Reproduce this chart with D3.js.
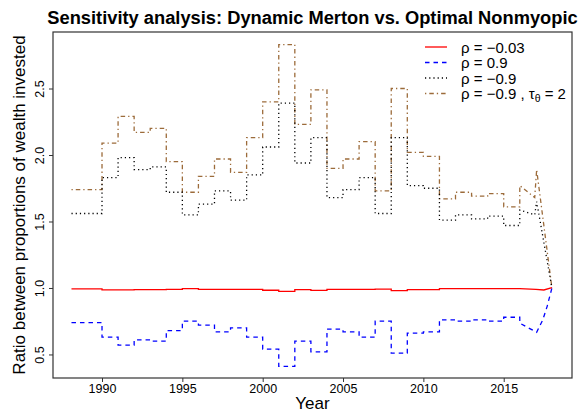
<!DOCTYPE html>
<html lang="en">
  <head>
    <meta charset="UTF-8" />
    <title>Sensitivity analysis</title>
    <style>
      body {
        margin: 0;
        padding: 0;
        background-color: #ffffff;
        font-family: "Liberation Sans", Arial, Helvetica, sans-serif;
      }
      svg text {
        fill: #000;
      }
    </style>
  </head>
  <body>
    <svg id="chart"></svg>

    <script src="https://d3js.org/d3.v7.min.js"></script>
    <script>
      const width = 588;
      const height = 417;

      // yearly step values, 1988..2015
      const years = d3.range(1988, 2016);
      const rhoNeg003 = [0.993, 0.993, 0.985, 0.985, 0.987, 0.987, 0.99, 0.995, 0.99, 0.99, 0.99, 0.99, 0.983, 0.975,
        0.987, 0.982, 0.99, 0.99, 0.99, 0.992, 0.98, 0.987, 0.987, 0.995, 0.995, 0.995, 0.995, 0.995];
      const rhoPos09 = [0.74, 0.74, 0.63, 0.57, 0.61, 0.6, 0.68, 0.75, 0.72, 0.67, 0.7, 0.63, 0.54, 0.41,
        0.6, 0.52, 0.69, 0.67, 0.63, 0.75, 0.51, 0.66, 0.67, 0.76, 0.75, 0.76, 0.75, 0.78];
      const rhoNeg09 = [1.56, 1.56, 1.83, 1.98, 1.89, 1.91, 1.72, 1.55, 1.63, 1.73, 1.66, 1.85, 2.06, 2.39,
        1.94, 2.13, 1.68, 1.74, 1.83, 1.56, 2.13, 1.77, 1.75, 1.51, 1.55, 1.52, 1.54, 1.47];
      const rhoNeg09Tau2 = [1.74, 1.74, 2.09, 2.29, 2.17, 2.2, 1.95, 1.72, 1.84, 1.97, 1.87, 2.13, 2.4, 2.83,
        2.23, 2.49, 1.9, 1.97, 2.1, 1.73, 2.5, 2.02, 1.99, 1.67, 1.72, 1.69, 1.71, 1.61];

      // last stretch (2016 to 2018), [year, value]
      const tailNeg003 = [[2016, 0.995], [2017, 0.99], [2017.5, 0.985], [2018, 1.003]];
      const tailPos09 = [[2016, 0.735], [2017.05, 0.667], [2017.43, 0.76], [2017.7, 0.86], [2018, 1.0]];
      const tailNeg09 = [[2016, 1.586], [2016.93, 1.55], [2017.05, 1.65], [2018, 1.0]];
      const tailNeg09Tau2 = [[2016, 1.77], [2016.93, 1.68], [2017.05, 1.89], [2018, 1.0]];

      const xTicks = [1990, 1995, 2000, 2005, 2010, 2015];
      const yTicks = [0.5, 1.0, 1.5, 2.0, 2.5];

      const margin = { left: 53, top: 32, right: 572, bottom: 378 };

      const svg = d3.select("#chart").attr("width", width).attr("height", height);

      const x = d3.scaleLinear().domain([1986.95, 2019.25]).range([margin.left, margin.right]);
      const y = d3.scaleLinear().domain([0.323, 2.925]).range([margin.bottom, margin.top]);

      // build step points from the yearly values and append the tail
      function stepPoints(vals, tail) {
        const pts = [];
        vals.forEach(function (v, i) {
          const start = i === 0 ? 1988.1 : years[i];
          pts.push([start, v]);
          pts.push([years[i] + 1, v]);
        });
        return pts.concat(tail);
      }

      const line = d3
        .line()
        .x((d) => x(d[0]))
        .y((d) => y(d[1]));

      const series = [
        { vals: rhoNeg09Tau2, tail: tailNeg09Tau2, color: "#9c6b3a", dash: "1.3,3,4.5,3" },
        { vals: rhoNeg09, tail: tailNeg09, color: "#000000", dash: "1.2,3" },
        { vals: rhoPos09, tail: tailPos09, color: "#0000ff", dash: "4.5,4" },
        { vals: rhoNeg003, tail: tailNeg003, color: "#ff0000", dash: null },
      ];

      series.forEach(function (s) {
        svg
          .append("path")
          .attr("d", line(stepPoints(s.vals, s.tail)))
          .attr("fill", "none")
          .attr("stroke", s.color)
          .attr("stroke-width", 1.3)
          .attr("stroke-dasharray", s.dash);
      });

      // box round the plot
      svg
        .append("rect")
        .attr("x", margin.left)
        .attr("y", margin.top)
        .attr("width", margin.right - margin.left)
        .attr("height", margin.bottom - margin.top)
        .attr("fill", "none")
        .attr("stroke", "#333")
        .attr("stroke-width", 1.2);

      // x axis
      const xAxis = svg
        .append("g")
        .attr("transform", "translate(0," + margin.bottom + ")")
        .call(d3.axisBottom(x).tickValues(xTicks).tickFormat(d3.format("d")).tickSize(4).tickSizeOuter(0));
      xAxis.select(".domain").remove();
      xAxis.selectAll("line").attr("stroke", "#333");
      xAxis
        .selectAll("text")
        .attr("y", 15)
        .attr("dy", 0)
        .style("font-size", "12.5px")
        .style("font-family", "'Liberation Sans', Arial, sans-serif");

      // y axis, labels parallel to the axis
      const yAxis = svg
        .append("g")
        .attr("transform", "translate(" + margin.left + ",0)")
        .call(d3.axisLeft(y).tickValues(yTicks).tickFormat(d3.format(".1f")).tickSize(4).tickSizeOuter(0));
      yAxis.select(".domain").remove();
      yAxis.selectAll("line").attr("stroke", "#333");
      yAxis
        .selectAll("text")
        .attr("x", null)
        .attr("dy", null)
        .attr("text-anchor", "middle")
        .attr("transform", "translate(-9,0) rotate(-90)")
        .style("font-size", "12.5px")
        .style("font-family", "'Liberation Sans', Arial, sans-serif");

      // titles
      svg
        .append("text")
        .attr("x", (margin.left + margin.right) / 2)
        .attr("y", 24)
        .attr("text-anchor", "middle")
        .style("font-size", "18.3px")
        .style("font-weight", "bold")
        .text("Sensitivity analysis: Dynamic Merton vs. Optimal Nonmyopic");

      svg
        .append("text")
        .attr("x", (margin.left + margin.right) / 2)
        .attr("y", 409)
        .attr("text-anchor", "middle")
        .style("font-size", "17px")
        .text("Year");

      svg
        .append("text")
        .attr("transform", "translate(25," + (margin.top + margin.bottom) / 2 + ") rotate(-90)")
        .attr("text-anchor", "middle")
        .style("font-size", "17px")
        .text("Ratio between proportions of wealth invested");

      // legend, no frame
      const legend = svg.append("g");
      const legendRows = [
        { y: 47, color: "#ff0000", dash: null },
        { y: 62.5, color: "#0000ff", dash: "4.5,4" },
        { y: 78, color: "#000000", dash: "1.2,3" },
        { y: 93.5, color: "#9c6b3a", dash: "1.3,3,4.5,3" },
      ];
      legendRows.forEach(function (r) {
        legend
          .append("line")
          .attr("x1", 425)
          .attr("x2", 447)
          .attr("y1", r.y)
          .attr("y2", r.y)
          .attr("stroke", r.color)
          .attr("stroke-width", 1.3)
          .attr("stroke-dasharray", r.dash);
      });

      const labelSize = "15px";
      ["ρ = −0.03", "ρ = 0.9", "ρ = −0.9"].forEach(function (t, i) {
        legend
          .append("text")
          .attr("x", 461)
          .attr("y", legendRows[i].y + 5.5)
          .style("font-size", labelSize)
          .text(t);
      });
      const last = legend
        .append("text")
        .attr("x", 461)
        .attr("y", legendRows[3].y + 5.5)
        .style("font-size", labelSize);
      last.append("tspan").text("ρ = −0.9 , τ");
      last.append("tspan").attr("dy", 3).style("font-size", "10.5px").text("θ");
      last.append("tspan").attr("dy", -3).text(" = 2");
    </script>
  </body>
</html>
